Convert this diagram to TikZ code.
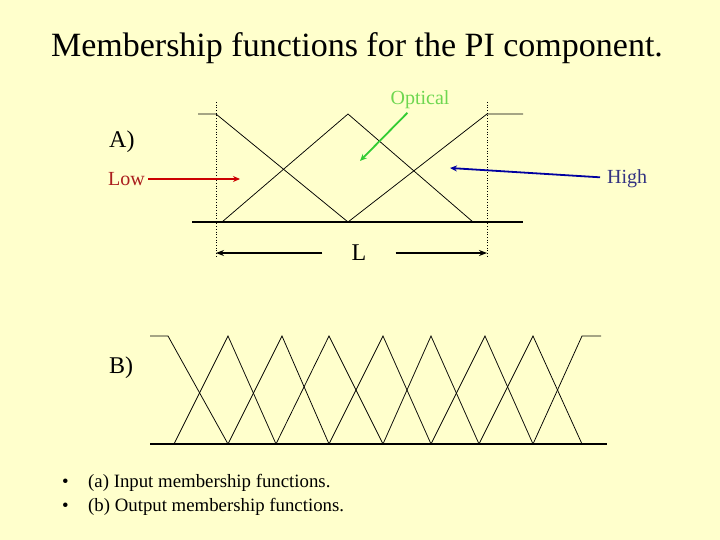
\documentclass[tikz,border=0pt]{standalone}
\usepackage{fontspec}
\setmainfont{Liberation Serif}
\usepackage{xcolor}
\usepackage{tikz}
\usetikzlibrary{positioning,arrows.meta}
\definecolor{slidebg}{RGB}{255,255,204}
\definecolor{lowred}{RGB}{170,30,30}
\definecolor{lowarrow}{RGB}{204,0,0}
\definecolor{optgreen}{RGB}{110,215,80}
\definecolor{optarrow}{RGB}{51,204,51}
\definecolor{highblue}{RGB}{51,51,130}
\definecolor{higharrow}{RGB}{0,0,160}

\begin{document}
\begin{tikzpicture}[x=1pt, y=-1pt,
  mf/.style={line width=0.75pt},
  axis/.style={line width=1.1pt},
  guide/.style={dotted, line width=0.7pt},
  lbl/.style={inner sep=0pt, font=\fontsize{20}{23}\selectfont},
  note/.style={inner sep=0pt, font=\fontsize{18.8}{22}\selectfont},
  big/.style={inner sep=0pt, font=\fontsize{24}{28}\selectfont},
  pointer/.style={-{Stealth[length=7pt,width=6pt]}, line width=1.8pt},
  span/.style={-{Stealth[length=8pt,width=6pt]}, line width=2.5pt}]
\fill[slidebg] (0,0) rectangle (720,540);
\useasboundingbox (0,0) rectangle (720,540);

\node[font=\fontsize{34}{40}\selectfont] (title) at (357,48)
  {Membership functions for the PI component.};

% A) input sets
\draw[guide] (216,102) -- (216,258);
\draw[guide] (487,102) -- (487,258);
\draw[axis] (192,222) -- (523,222);
\draw[mf] (198,114) -- (216,114) -- (348,222);
\draw[mf] (222,222) -- (348,114) -- (473,222);
\draw[mf] (348,222) -- (487,114) -- (523,114);

\node[big, anchor=west] (pa) at (109,142) {A)};
\node[lbl, anchor=west, text=lowred] (low) at (108,179) {Low};
\node[lbl, anchor=west, text=highblue] (high) at (607,179) {High};
\node[lbl, text=optgreen] (optical) at (420,100) {Optical};
\coordinate (lowtip) at (240,179);
\coordinate (hightip) at (450,168);
\coordinate (opttip) at (360,161);
\draw[pointer, lowarrow, shorten <=3pt] (low) -- (lowtip);
\draw[pointer, higharrow, shorten <=7pt] (high) -- (hightip);
\draw[pointer, optarrow, shorten <=5pt] (optical) -- (opttip);

\node[big, minimum width=73pt] (len) at (359,253) {L};
\coordinate (lenl) at (216,253);
\coordinate (lenr) at (487,253);
\draw[span] (len.west) -- (lenl);
\draw[span] (len.east) -- (lenr);

% B) output sets
\node[big, anchor=west] (pb) at (109,368) {B)};
\draw[axis] (150,444) -- (607,444);
\draw[mf] (150,336) -- (168,336) -- (228,444);
\foreach \l/\c/\r in {174/228/276, 228/282/329, 276/329/383, 329/383/431,
                      383/431/479, 431/485/533, 479/533/582}
  \draw[mf] (\l,444) -- (\c,336) -- (\r,444);
\draw[mf] (533,444) -- (582,336) -- (601,336);

% notes
\node[note, anchor=west] (d1) at (62,483) {•};
\node[note, anchor=west] (d2) at (62,507) {•};
\node[note, anchor=west] (n1) at (88,483) {(a) Input membership functions.};
\node[note, anchor=west] (n2) at (88,507) {(b) Output membership functions.};
\end{tikzpicture}
\end{document}
